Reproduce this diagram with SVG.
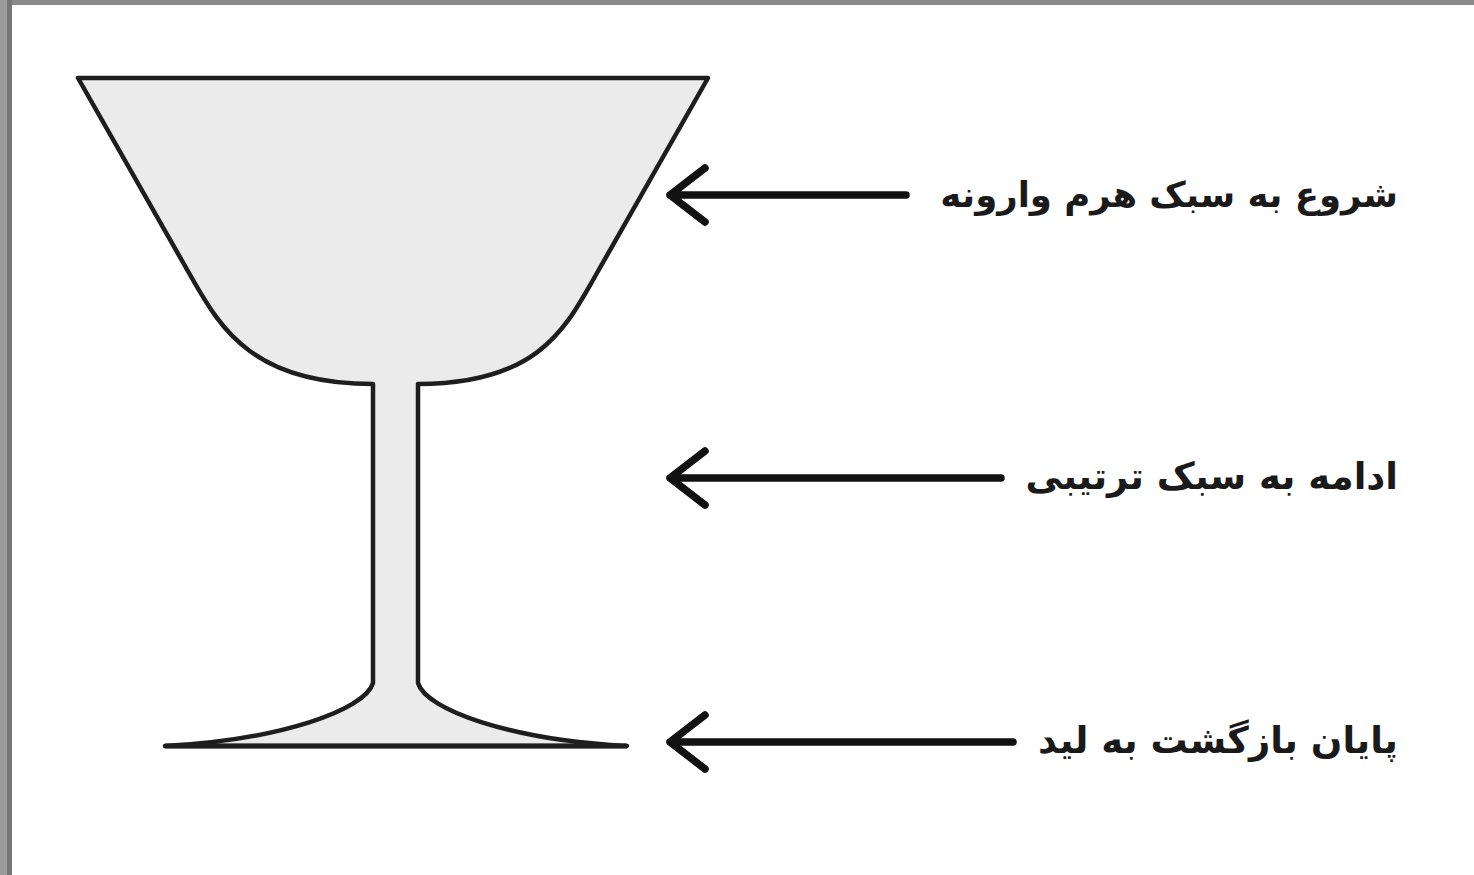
<svg xmlns="http://www.w3.org/2000/svg" width="1474" height="875" viewBox="0 0 1474 875">
<style>
.glass{fill:#ebebeb;stroke:#1e1e1e;stroke-width:4.5;stroke-linejoin:round}
.arr{fill:none;stroke:#111;stroke-width:7.5;stroke-linecap:round;stroke-linejoin:round}
.lbl{font-family:"DejaVu Sans",sans-serif;font-weight:bold;font-size:37px;fill:#1a1a1a;text-anchor:end}
</style>
<rect width="1474" height="875" fill="#ffffff"/>
<rect x="0" y="0" width="1474" height="5" fill="#8a8a8a"/>
<rect x="0" y="0" width="7" height="875" fill="#9c9c9c"/>
<rect x="7" y="0" width="5" height="875" fill="#777777"/>
<g id="goblet">
<path class="glass" d="M78 78 L708 78 L593 280 C564.5 330 536 384 418 384 L418 683 C426 710 511 740 627 746 L165 746 C280 740 365 710 373 683 L373 384 C255 384 221.5 330 193 280 Z"/>
<line x1="165" y1="746" x2="627" y2="746" stroke="#1e1e1e" stroke-width="5"/>
</g>
<g id="connectors">
<path class="arr" d="M705 168 L670 195 L705 222 M670 195 L906 195"/>
<path class="arr" d="M705 451 L670 478 L705 505 M670 478 L1001 478"/>
<path class="arr" d="M705 715 L670 742 L705 769 M670 742 L1013 742"/>
</g>
<g id="label1"><text class="lbl" x="1398" y="207" font-size="35.5" style="font-size:35.5px">شروع به سبک هرم وارونه</text></g>
<g id="label2"><text class="lbl" x="1398" y="489">ادامه به سبک ترتیبی</text></g>
<g id="label3"><text class="lbl" x="1398" y="753">پایان بازگشت به لید</text></g>
</svg>
